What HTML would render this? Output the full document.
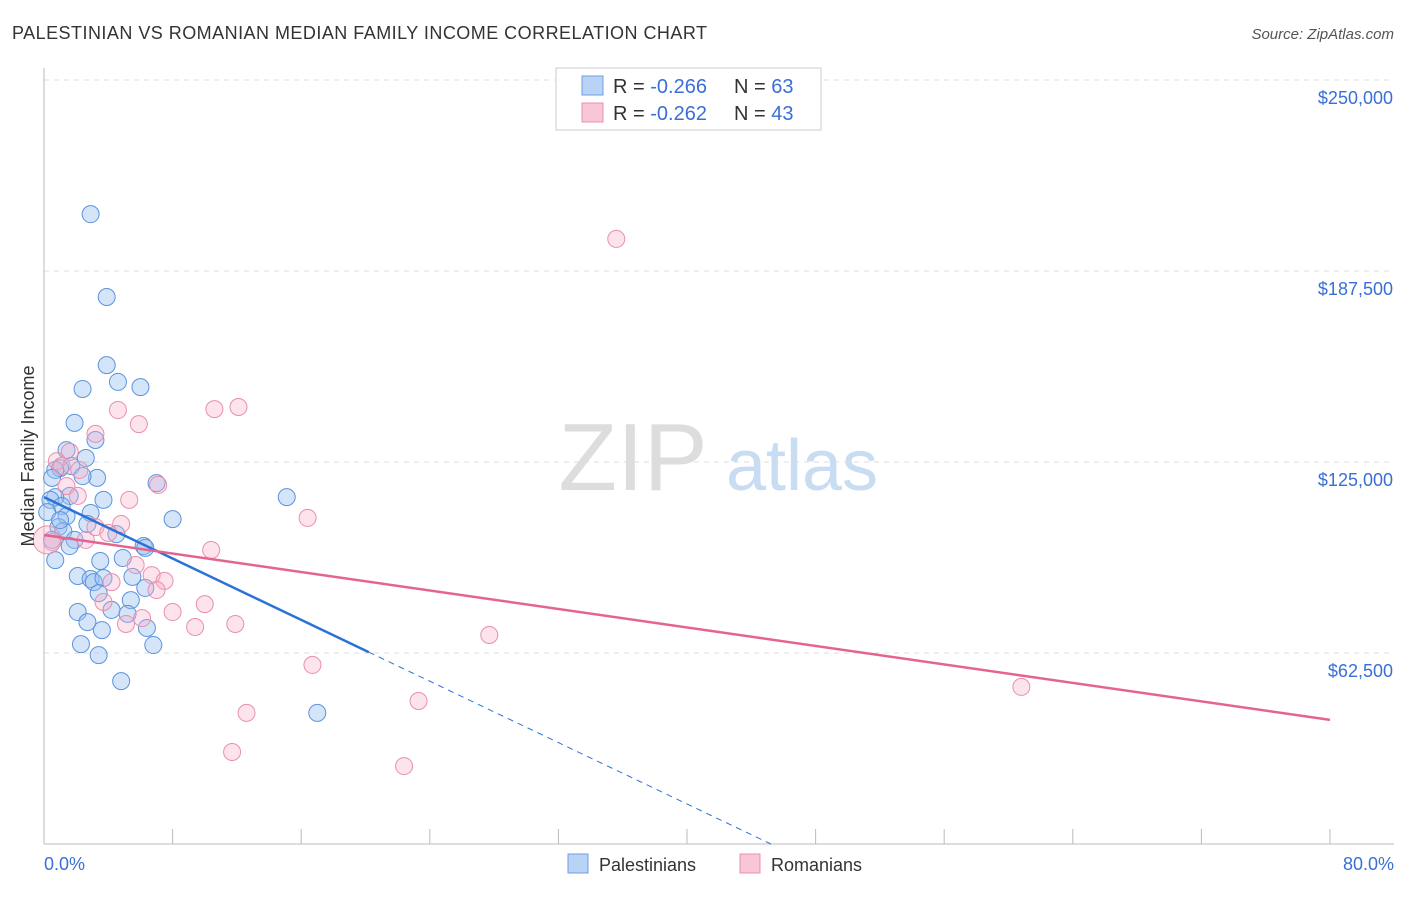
<!DOCTYPE html>
<html><head><meta charset="utf-8"><style>
body{margin:0;background:#fff;font-family:"Liberation Sans",sans-serif;}
svg text{font-family:"Liberation Sans",sans-serif;}
</style></head><body>
<svg id="chart" width="1406" height="892">
<text x="12" y="39" font-size="18" fill="#333" textLength="695">PALESTINIAN VS ROMANIAN MEDIAN FAMILY INCOME CORRELATION CHART</text>
<text x="1394" y="39" font-size="15" fill="#555" font-style="italic" text-anchor="end">Source: ZipAtlas.com</text>
<text x="633" y="490" font-size="96" fill="#ddd" font-family="Liberation Serif" text-anchor="middle">ZIP</text>
<text x="802" y="490" font-size="72" fill="#c8dcf2" text-anchor="middle">atlas</text>
<g id="grid"></g><g id="axes"></g><g id="pts"></g><g id="lines"></g>
<text transform="translate(34,456) rotate(-90)" font-size="18" fill="#333" text-anchor="middle">Median Family Income</text>
<text x="44" y="870" font-size="18" fill="#3a6fd8">0.0%</text>
<text x="1394" y="870" font-size="18" fill="#3a6fd8" text-anchor="end">80.0%</text>
<g>
<rect x="556" y="68" width="265" height="62" fill="#fff" stroke="#ccc"/>
<rect x="582" y="76" width="21" height="19" fill="#b8d3f5" stroke="#6b9fe0"/>
<rect x="582" y="103" width="21" height="19" fill="#f8c6d6" stroke="#e890ac"/>
<text x="613" y="93" font-size="20" fill="#333">R = <tspan fill="#3a6fd8">-0.266</tspan></text>
<text x="734" y="93" font-size="20" fill="#333">N = <tspan fill="#3a6fd8">63</tspan></text>
<text x="613" y="120" font-size="20" fill="#333">R = <tspan fill="#3a6fd8">-0.262</tspan></text>
<text x="734" y="120" font-size="20" fill="#333">N = <tspan fill="#3a6fd8">43</tspan></text>
</g>
<g>
<rect x="568" y="854" width="20" height="19" fill="#b8d3f5" stroke="#6b9fe0"/>
<text x="599" y="871" font-size="18" fill="#333">Palestinians</text>
<rect x="740" y="854" width="20" height="19" fill="#f8c6d6" stroke="#e890ac"/>
<text x="771" y="871" font-size="18" fill="#333">Romanians</text>
</g>
</svg>
<script>
const yTicks=[62500,125000,187500,250000];
const yTickLabels=["$62,500","$125,000","$187,500","$250,000"];
const xTicks=[0,8,16,24,32,40,48,56,64,72,80];
const palX=[2.9,3.9,3.9,2.4,4.6,6.0,1.9,3.2,1.4,2.6,1.7,1.0,0.7,3.3,2.4,7.0,0.5,1.6,3.7,0.7,0.4,1.1,2.9,8.0,15.1,0.2,1.4,2.7,0.9,1.2,4.5,1.9,1.6,6.2,6.3,4.9,3.5,2.1,5.5,2.9,3.1,3.7,3.4,6.3,5.4,2.1,4.2,5.2,2.7,6.4,3.6,2.3,6.8,3.4,4.8,17.0,0.5,0.7,1.0];
const palY=[206.1,179.0,156.7,148.9,151.2,149.5,137.8,132.2,128.9,126.3,123.7,123.0,122.4,119.8,120.4,118.1,119.8,113.9,112.6,113.5,112.6,110.6,108.3,106.3,113.5,108.6,107.3,104.7,103.7,102.4,101.4,99.5,97.5,97.5,96.9,93.6,92.6,87.7,87.4,86.7,85.7,87.0,82.1,83.8,79.8,75.9,76.6,75.3,72.6,70.7,70.0,65.4,65.1,61.8,53.3,42.9,99.5,92.9,106.0];
const romX=[35.6,10.6,12.1,4.6,5.9,3.2,1.6,0.8,1.1,2.2,7.1,1.4,2.1,5.3,16.4,4.8,3.2,4.0,2.6,0.5,10.4,5.7,6.7,7.5,4.2,7.0,3.7,10.0,8.0,6.1,5.1,11.9,9.4,27.7,16.7,60.8,23.3,12.6,11.7,22.4,0.2];
const romY=[198.0,142.3,143.0,142.0,137.4,134.2,128.3,125.3,123.7,122.4,117.5,117.1,113.9,112.6,106.7,104.7,103.7,101.8,99.5,98.8,96.2,91.3,88.0,86.1,85.7,83.1,79.2,78.5,75.9,73.9,72.0,72.0,71.0,68.4,58.6,51.4,46.8,42.9,30.1,25.5,99.5];
const palFit=[113.5,-2.51];
const romFit=[101.1,-0.756];
const NS="http://www.w3.org/2000/svg";
const X=p=>44+p*1286/80, Y=v=>844-v*191/62500;
function mk(t,a,parent){const e=document.createElementNS(NS,t);for(const k in a)e.setAttribute(k,a[k]);document.getElementById(parent).appendChild(e);return e;}
yTicks.forEach((t,i)=>{
 const l=mk('line',{x1:44,x2:1394,y1:Y(t),y2:Y(t),stroke:'#ddd','stroke-dasharray':'5,5'},'grid');
 
 
 const tx=mk('text',{x:1393,y:Y(t)+24,'font-size':18,fill:'#3a6fd8','text-anchor':'end'},'grid');
 tx.textContent=yTickLabels[i];
 
 
});
const ax=mk('line',{x1:44,x2:44,y1:68,y2:844,stroke:'#bbb'},'axes');


const bx=mk('line',{x1:44,x2:1394,y1:844,y2:844,stroke:'#bbb'},'axes');


xTicks.forEach(t=>{
 const l=mk('line',{x1:X(t),x2:X(t),y1:829,y2:844,stroke:'#bbb'},'axes');
 
 
});
palX.forEach((x,i)=>{
 const c=mk('circle',{cx:X(x),cy:Y(palY[i]*1000),r:8.5,fill:'rgba(150,190,240,0.4)',stroke:'#5b93dd','stroke-width':1},'pts');
 
 
});
romX.forEach((x,i)=>{
 const c=mk('circle',{cx:X(x),cy:Y(romY[i]*1000),r:i==romX.length-1?14:8.5,fill:'rgba(245,175,200,0.35)',stroke:'#e890ac','stroke-width':1},'pts');
 
 
});
const pf=x=>(palFit[0]+palFit[1]*x)*1000, rf=x=>(romFit[0]+romFit[1]*x)*1000;
const x0=-palFit[0]/palFit[1];
const bl=mk('line',{x1:X(0),y1:Y(pf(0)),x2:X(20.2),y2:Y(pf(20.2)),stroke:'#2b72d6','stroke-width':2.5},'lines');


const bd=mk('line',{x1:X(20.2),y1:Y(pf(20.2)),x2:X(x0),y2:Y(0),stroke:'#2b72d6','stroke-width':1,'stroke-dasharray':'6,5'},'lines');


const rl=mk('line',{x1:X(0),y1:Y(rf(0)),x2:X(80),y2:Y(rf(80)),stroke:'#e5648e','stroke-width':2.5},'lines');


</script>
</body></html>
